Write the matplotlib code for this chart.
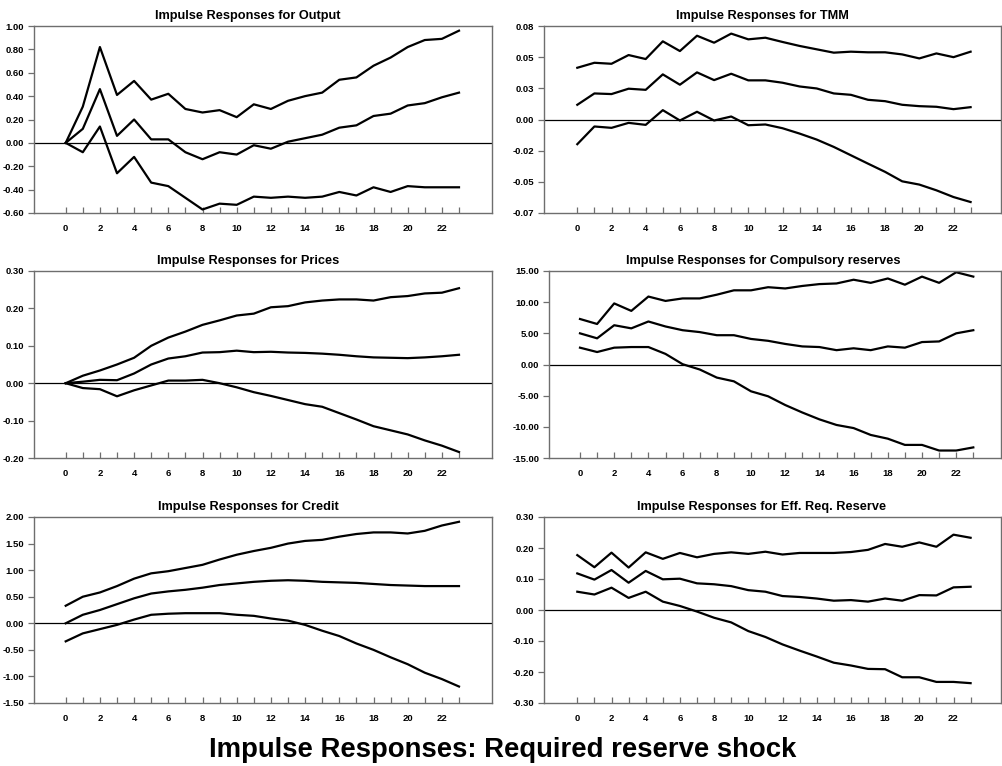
import matplotlib
matplotlib.use("Agg")
import matplotlib.pyplot as plt
import numpy as np

plt.rcParams["font.family"] = ["Liberation Sans", "DejaVu Sans"]

# ---------------------------------------------------------
# DATA
# ---------------------------------------------------------
HORIZON = list(range(24))

OUTPUT_UPPER = [0.00, 0.31, 0.82, 0.41, 0.53, 0.37, 0.42, 0.29, 0.26, 0.28, 0.22, 0.33,
                0.29, 0.36, 0.40, 0.43, 0.54, 0.56, 0.66, 0.73, 0.82, 0.88, 0.89, 0.96]
OUTPUT_MID = [0.00, 0.12, 0.46, 0.06, 0.20, 0.03, 0.03, -0.08, -0.14, -0.08, -0.10, -0.02,
              -0.05, 0.01, 0.04, 0.07, 0.13, 0.15, 0.23, 0.25, 0.32, 0.34, 0.39, 0.43]
OUTPUT_LOWER = [0.00, -0.08, 0.14, -0.26, -0.12, -0.34, -0.37, -0.47, -0.57, -0.52, -0.53, -0.46,
                -0.47, -0.46, -0.47, -0.46, -0.42, -0.45, -0.38, -0.42, -0.37, -0.38, -0.38, -0.38]

TMM_UPPER = [0.0415, 0.0455, 0.0447, 0.0517, 0.0485, 0.0627, 0.0549, 0.0672, 0.0616, 0.0689,
             0.0643, 0.0656, 0.0622, 0.0590, 0.0563, 0.0536, 0.0544, 0.0539, 0.0539, 0.0522,
             0.0490, 0.0530, 0.0500, 0.0544]
TMM_MID = [0.0118, 0.0209, 0.0204, 0.0247, 0.0238, 0.0362, 0.0279, 0.0378, 0.0316, 0.0367,
           0.0314, 0.0314, 0.0295, 0.0265, 0.0249, 0.0209, 0.0198, 0.0158, 0.0147, 0.0118,
           0.0107, 0.0102, 0.0083, 0.0099]
TMM_LOWER = [-0.0198, -0.0056, -0.0067, -0.0027, -0.0043, 0.0075, -0.0008, 0.0062, -0.0008,
             0.0024, -0.0046, -0.0040, -0.0070, -0.0113, -0.0161, -0.0220, -0.0287, -0.0354,
             -0.0420, -0.0496, -0.0522, -0.0568, -0.0622, -0.0662]

PRICES_UPPER = [0.000, 0.020, 0.034, 0.050, 0.068, 0.100, 0.122, 0.138, 0.156, 0.168, 0.181, 0.186,
                0.203, 0.206, 0.216, 0.221, 0.224, 0.224, 0.221, 0.230, 0.233, 0.240, 0.242, 0.254]
PRICES_MID = [0.000, 0.004, 0.009, 0.008, 0.026, 0.050, 0.066, 0.072, 0.082, 0.083, 0.087, 0.083,
              0.084, 0.082, 0.081, 0.079, 0.076, 0.072, 0.069, 0.068, 0.067, 0.069, 0.072, 0.076]
PRICES_LOWER = [0.000, -0.013, -0.016, -0.035, -0.019, -0.006, 0.007, 0.007, 0.009, 0.000, -0.011,
                -0.024, -0.034, -0.045, -0.056, -0.063, -0.080, -0.097, -0.115, -0.126, -0.137,
                -0.153, -0.167, -0.184]

RESERVES_UPPER = [7.3, 6.5, 9.8, 8.6, 10.9, 10.2, 10.6, 10.6, 11.2, 11.9, 11.9, 12.4,
                  12.2, 12.6, 12.9, 13.0, 13.6, 13.1, 13.8, 12.8, 14.1, 13.1, 14.8, 14.1]
RESERVES_MID = [5.0, 4.2, 6.3, 5.8, 6.9, 6.1, 5.5, 5.2, 4.7, 4.7, 4.1, 3.8,
                3.3, 2.9, 2.8, 2.3, 2.6, 2.3, 2.9, 2.7, 3.6, 3.7, 5.0, 5.5]
RESERVES_LOWER = [2.7, 2.0, 2.7, 2.8, 2.8, 1.7, 0.05, -0.8, -2.1, -2.7, -4.3, -5.1,
                  -6.5, -7.7, -8.8, -9.7, -10.2, -11.3, -11.9, -12.9, -12.9, -13.8, -13.8, -13.3]

CREDIT_UPPER = [0.33, 0.50, 0.58, 0.70, 0.84, 0.94, 0.98, 1.04, 1.10, 1.20, 1.29, 1.36,
                1.42, 1.50, 1.55, 1.57, 1.63, 1.68, 1.71, 1.71, 1.69, 1.74, 1.84, 1.91]
CREDIT_MID = [0.00, 0.16, 0.25, 0.36, 0.47, 0.56, 0.60, 0.63, 0.67, 0.72, 0.75, 0.78,
              0.80, 0.81, 0.80, 0.78, 0.77, 0.76, 0.74, 0.72, 0.71, 0.70, 0.70, 0.70]
CREDIT_LOWER = [-0.34, -0.19, -0.11, -0.03, 0.07, 0.16, 0.18, 0.19, 0.19, 0.19, 0.16, 0.14,
                0.09, 0.05, -0.03, -0.14, -0.24, -0.38, -0.50, -0.64, -0.77, -0.93, -1.05, -1.19]

EFFRES_UPPER = [0.177, 0.138, 0.185, 0.137, 0.186, 0.165, 0.184, 0.170, 0.181, 0.186, 0.181, 0.188,
                0.179, 0.184, 0.184, 0.184, 0.187, 0.194, 0.213, 0.204, 0.218, 0.204, 0.243, 0.233]
EFFRES_MID = [0.118, 0.098, 0.129, 0.088, 0.126, 0.099, 0.101, 0.086, 0.083, 0.077, 0.064, 0.059,
              0.045, 0.042, 0.037, 0.030, 0.032, 0.027, 0.037, 0.030, 0.048, 0.047, 0.073, 0.075]
EFFRES_LOWER = [0.059, 0.050, 0.072, 0.039, 0.059, 0.027, 0.013, -0.005, -0.025, -0.040, -0.068,
                -0.087, -0.111, -0.131, -0.150, -0.170, -0.179, -0.190, -0.191, -0.217, -0.217,
                -0.232, -0.232, -0.236]

TMM_TICKS = [-0.075, -0.05, -0.025, 0.0, 0.025, 0.05, 0.075]
TMM_TICK_LABELS = ["-0.07", "-0.05", "-0.02", "0.00", "0.03", "0.05", "0.08"]

PANELS = [
    ("Output", (OUTPUT_UPPER, OUTPUT_MID, OUTPUT_LOWER), (-0.6, 1.0), np.arange(-0.6, 1.01, 0.2), None),
    ("TMM", (TMM_UPPER, TMM_MID, TMM_LOWER), (-0.075, 0.075), TMM_TICKS, TMM_TICK_LABELS),
    ("Prices", (PRICES_UPPER, PRICES_MID, PRICES_LOWER), (-0.2, 0.3), np.arange(-0.2, 0.31, 0.1), None),
    ("Compulsory reserves", (RESERVES_UPPER, RESERVES_MID, RESERVES_LOWER), (-15, 15), np.arange(-15, 16, 5), None),
    ("Credit", (CREDIT_UPPER, CREDIT_MID, CREDIT_LOWER), (-1.5, 2.0), np.arange(-1.5, 2.01, 0.5), None),
    ("Eff. Req. Reserve", (EFFRES_UPPER, EFFRES_MID, EFFRES_LOWER), (-0.3, 0.3), np.arange(-0.3, 0.31, 0.1), None),
]

# ---------------------------------------------------------
# LAYOUT (pixels in a 1002 x 766 canvas)
# ---------------------------------------------------------
W, H = 1002, 766
# left spine, right spine, top, bottom, pixel of x=0, title centre
BOXES = [
    (34, 492, 26, 213, 65.7, 248),
    (544, 1001, 26, 213, 577.3, 762),
    (34, 492, 271, 458, 65.7, 248),
    (549, 1001, 271, 458, 580.0, 763),
    (34, 492, 517, 703, 65.7, 248),
    (544, 1001, 517, 703, 577.3, 762),
]
PX_PER_STEP = 17.1

fig = plt.figure(figsize=(W / 100, H / 100), dpi=100)
spine_color = "#6e6e6e"

for (name, (upper, mid, lower), ylim, yticks, ylabels), (l, r, t, b, x0, tc) in zip(PANELS, BOXES):
    ax = fig.add_axes([l / W, 1 - b / H, (r - l) / W, (b - t) / H])
    for series in (upper, mid, lower):
        ax.plot(HORIZON, series, color="black", linewidth=1.6)
    ax.axhline(0, color="black", linewidth=0.9)

    ax.set_xlim((l - x0) / PX_PER_STEP, (r - x0) / PX_PER_STEP)
    ax.set_ylim(*ylim)
    ax.set_xticks(range(0, 24, 2))
    ax.set_xticks(range(1, 24, 2), minor=True)
    ax.set_yticks(yticks)
    if ylabels is None:
        ax.set_yticklabels([f"{v:.2f}" for v in yticks])
    else:
        ax.set_yticklabels(ylabels)

    ax.tick_params(axis="x", which="both", direction="in", length=4, width=0.9,
                   color=spine_color, pad=8, labelsize=6.8)
    ax.tick_params(axis="y", direction="out", length=4, width=0.9,
                   color=spine_color, pad=3, labelsize=6.8)
    for lab in ax.get_xticklabels() + ax.get_yticklabels():
        lab.set_fontweight("bold")
    for sp in ax.spines.values():
        sp.set_color(spine_color)
        sp.set_linewidth(1.0)

    ax.set_title(f"Impulse Responses for {name}", fontsize=9.2, fontweight="bold", pad=5,
                 x=(tc - l) / (r - l))

fig.text(0.502, 1 - 757 / H, "Impulse Responses: Required reserve shock",
         ha="center", va="baseline", fontsize=19.8, fontweight="bold")

fig.savefig("out.png", dpi=100)
